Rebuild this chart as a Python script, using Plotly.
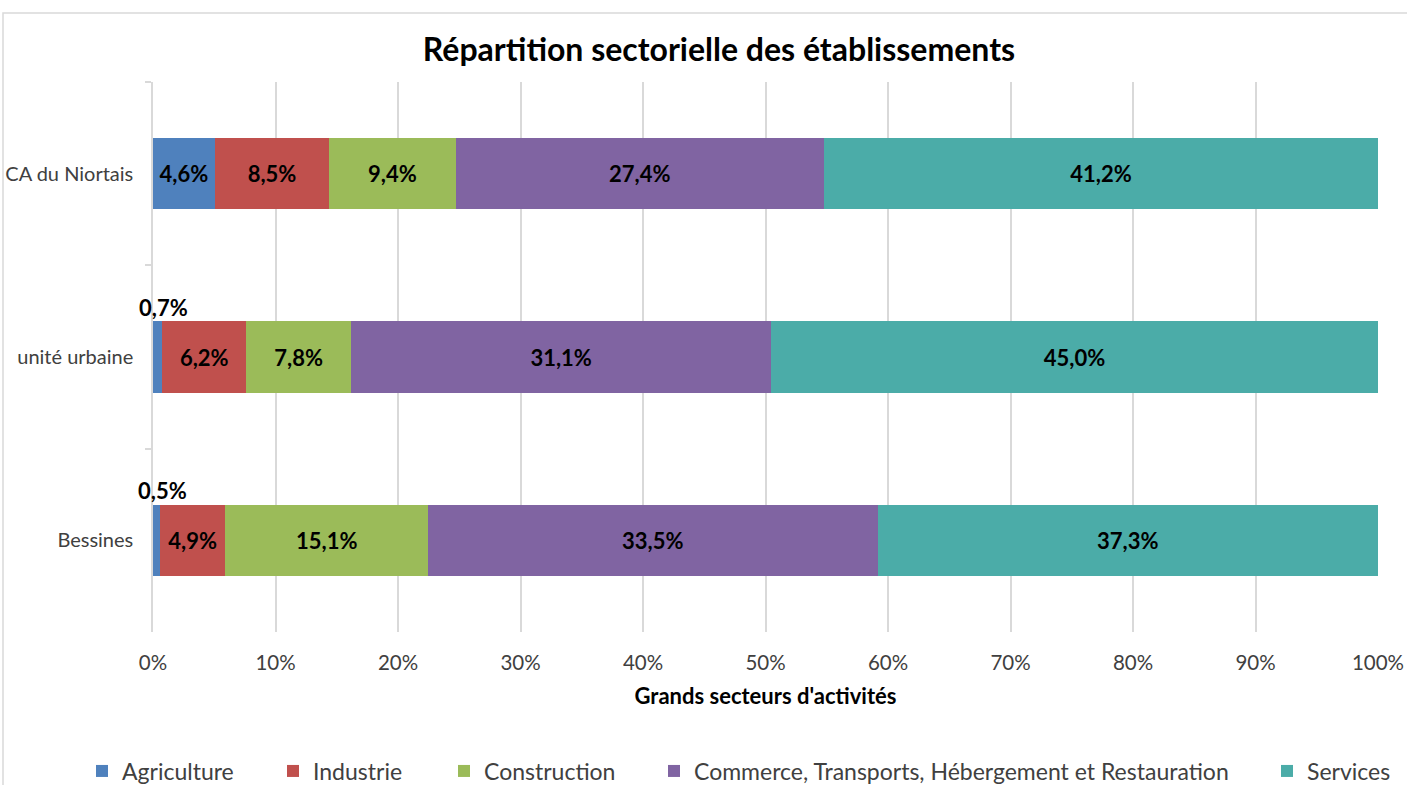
import plotly.graph_objects as go

# Territories (top to bottom) and sector shares as printed on the bars (%)
territoires = ["CA du Niortais", "unité urbaine", "Bessines"]
secteurs = ["Agriculture", "Industrie", "Construction",
            "Commerce, Transports, Hébergement et Restauration", "Services"]
agriculture = [4.6, 0.7, 0.5]
industrie = [8.5, 6.2, 4.9]
construction = [9.4, 7.8, 15.1]
commerce = [27.4, 31.1, 33.5]
services = [41.2, 45.0, 37.3]
x_ticks = [0, 10, 20, 30, 40, 50, 60, 70, 80, 90, 100]

series = [agriculture, industrie, construction, commerce, services]
colors = ["#4F81BD", "#C0504D", "#9BBB59", "#8064A2", "#4BACA8"]

FONT = "Lato"
W, H = 1407, 785
PLOT_L, PLOT_R, PLOT_T, PLOT_B = 153, 1378, 82, 632


def fr(v):
    return f"{v:.1f}%".replace(".", ",")


# labels too small to sit inside their segment are drawn above the bar
SMALL = 2.0
legend_keys = [f"legend{i + 2}" for i in range(len(secteurs))]

fig = go.Figure()
for key, name, vals, col in zip(legend_keys, secteurs, series, colors):
    fig.add_trace(go.Bar(
        y=territoires, x=vals, name=name, orientation="h",
        marker=dict(color=col, line=dict(width=0)),
        text=[fr(v) if v >= SMALL else "" for v in vals],
        textposition="inside", insidetextanchor="middle",
        textfont=dict(family=FONT, size=22, color="black", weight="bold"),
        constraintext="none",
        legend=key,
        hoverinfo="skip",
    ))

annotations = []
totals = [sum(s[j] for s in series) for j in range(len(territoires))]
for j, terr in enumerate(territoires):
    v = agriculture[j]
    if v < SMALL:
        annotations.append(dict(
            x=v / totals[j] * 100 / 2, y=terr, xref="x", yref="y",
            text=f"<b>{fr(v)}</b>", showarrow=False, yshift=50, xshift=6,
            font=dict(family=FONT, size=22, color="black"),
        ))

plot_w = PLOT_R - PLOT_L
plot_h = PLOT_B - PLOT_T


def px_x(p):
    return (p - PLOT_L) / plot_w


def px_y(p):
    return (PLOT_B - p) / plot_h


# one legend per sector so entries sit where Excel spread them
marker_left = [102, 293, 464, 674, 1287]
legends = {}
for key, ml in zip(legend_keys, marker_left):
    legends[key] = dict(
        x=(ml - 20) / W, y=(H - 771) / H,
        xref="container", yref="container",
        xanchor="left", yanchor="middle", orientation="h",
        font=dict(family=FONT, size=23, color="#404040"),
        bgcolor="rgba(0,0,0,0)", itemwidth=30,
    )

fig.update_layout(
    barmode="stack", barnorm="percent", bargap=0.61,
    width=W, height=H,
    margin=dict(l=PLOT_L, r=W - PLOT_R, t=PLOT_T, b=H - PLOT_B),
    paper_bgcolor="white", plot_bgcolor="white",
    font=dict(family=FONT, color="#404040"),
    showlegend=True,
    title=dict(
        text="<b>Répartition sectorielle des établissements</b>",
        x=719 / W, xref="container", xanchor="center",
        y=1 - 50 / H, yref="container", yanchor="middle",
        font=dict(family=FONT, size=32, color="black"),
    ),
    xaxis=dict(
        range=[0, 100], tickvals=x_ticks,
        ticktext=[f"{t}%" for t in x_ticks],
        showgrid=True, gridcolor="#D9D9D9", gridwidth=1.5,
        zeroline=False, showline=False, ticks="",
        tickfont=dict(family=FONT, size=20.5, color="#404040"),
        ticklabelstandoff=16,
        title=dict(text="<b>Grands secteurs d'activités</b>", standoff=16,
                   font=dict(family=FONT, size=22, color="black")),
        automargin=False,
        fixedrange=True,
    ),
    yaxis=dict(
        autorange="reversed", type="category",
        showline=True, linecolor="#D9D9D9", linewidth=1.5,
        ticks="outside", tickson="boundaries", ticklen=6,
        tickcolor="#D9D9D9", tickwidth=1.5,
        showgrid=False,
        tickfont=dict(family=FONT, size=20, color="#404040"),
        ticklabelstandoff=14,
        automargin=False,
        fixedrange=True,
    ),
    annotations=annotations,
    shapes=[dict(
        type="rect", xref="paper", yref="paper",
        x0=px_x(3), x1=px_x(W + 40), y0=px_y(H + 40), y1=px_y(13),
        line=dict(color="#D9D9D9", width=1.5), fillcolor="rgba(0,0,0,0)",
        layer="below",
    )],
    **legends,
)

# drop the default 8px page margin so the figure fills the window exactly
fig.write_html("out.html", config={"displayModeBar": False},
               post_script="document.body.style.margin='0';")
